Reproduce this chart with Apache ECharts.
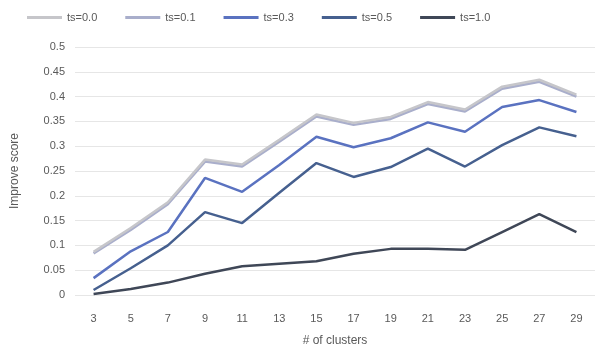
<!DOCTYPE html>
<html>
<head>
<meta charset="utf-8">
<script src="https://cdn.jsdelivr.net/npm/echarts@6/dist/echarts.min.js"></script>
<style>
  html, body { margin: 0; padding: 0; background: #ffffff; }
  #chart { width: 600px; height: 356px; }
</style>
</head>
<body>
<div id="chart"></div>
<script>
// Number of clusters on the x axis
const clusters = ['3', '5', '7', '9', '11', '13', '15', '17', '19', '21', '23', '25', '27', '29'];

// Score for each ts setting
const ts00 = [0.087, 0.135, 0.187, 0.273, 0.263, 0.313, 0.364, 0.347, 0.359, 0.389, 0.374, 0.420, 0.434, 0.404];
const ts01 = [0.084, 0.131, 0.183, 0.269, 0.259, 0.309, 0.360, 0.343, 0.355, 0.385, 0.370, 0.416, 0.430, 0.400];
const ts03 = [0.034, 0.088, 0.127, 0.236, 0.208, 0.262, 0.319, 0.298, 0.316, 0.348, 0.329, 0.379, 0.393, 0.369];
const ts05 = [0.010, 0.054, 0.100, 0.167, 0.145, 0.206, 0.266, 0.238, 0.258, 0.295, 0.259, 0.302, 0.338, 0.320];
const ts10 = [0.002, 0.012, 0.025, 0.043, 0.058, 0.063, 0.068, 0.083, 0.093, 0.093, 0.091, 0.127, 0.163, 0.127];

const seriesNames = ['ts=0.0', 'ts=0.1', 'ts=0.3', 'ts=0.5', 'ts=1.0'];
const seriesData = [ts00, ts01, ts03, ts05, ts10];
const seriesColors = ['#c6c6ca', '#a9aecb', '#5a72c0', '#46608f', '#3f4757'];

const font = 'Liberation Sans, Arial, sans-serif';

const chart = echarts.init(document.getElementById('chart'), null, { renderer: 'canvas' });

chart.setOption({
  backgroundColor: '#ffffff',
  animation: false,
  legend: {
    top: 7,
    left: 22,
    itemWidth: 35,
    itemHeight: 3,
    itemGap: 28,
    icon: 'rect',
    textStyle: { fontFamily: font, fontSize: 11, color: '#595959' },
    data: seriesNames
  },
  grid: { left: 75, right: 5, top: 47, bottom: 61 },
  xAxis: {
    type: 'category',
    data: clusters,
    boundaryGap: true,
    name: '# of clusters',
    nameLocation: 'middle',
    nameGap: 40,
    nameTextStyle: { fontFamily: font, fontSize: 12, color: '#595959' },
    axisLine: { show: false },
    axisTick: { show: false },
    axisLabel: { fontFamily: font, fontSize: 11, color: '#595959', margin: 18, interval: 0 }
  },
  yAxis: {
    type: 'value',
    min: 0,
    max: 0.5,
    interval: 0.05,
    name: 'Improve score',
    nameLocation: 'middle',
    nameGap: 54,
    nameTextStyle: { fontFamily: font, fontSize: 12, color: '#595959' },
    axisLine: { show: false },
    axisTick: { show: false },
    axisLabel: {
      fontFamily: font, fontSize: 11, color: '#595959', margin: 10,
      formatter: v => String(Math.round(v * 100) / 100)
    },
    splitLine: { lineStyle: { color: '#e6e6e6', width: 1 } }
  },
  series: seriesNames.map((name, i) => ({
    name: name,
    type: 'line',
    data: seriesData[i],
    symbol: 'none',
    smooth: false,
    z: 10 - i,
    lineStyle: { color: seriesColors[i], width: 2.5 },
    itemStyle: { color: seriesColors[i] }
  }))
});
</script>
</body>
</html>
